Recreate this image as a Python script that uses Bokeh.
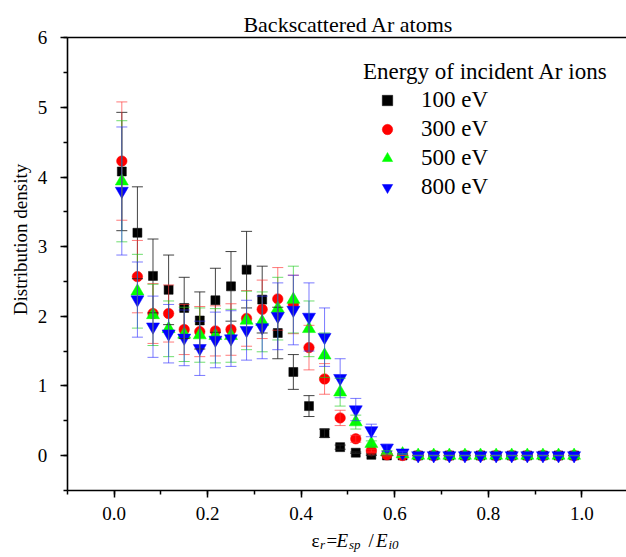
from math import pi
from bokeh.plotting import figure
from bokeh.models import (ColumnDataSource, Whisker, TeeHead, Legend, LegendItem, Label,
                          SingleIntervalTicker, NumeralTickFormatter, Range1d, LinearAxis)
from bokeh.embed import file_html
from bokeh.resources import INLINE

# ---------------- data ----------------
eps_r = [0.0167, 0.05, 0.0833, 0.1167, 0.15, 0.1833, 0.2167, 0.25, 0.2833, 0.3167,
         0.35, 0.3833, 0.4167, 0.45, 0.4833, 0.5167, 0.55, 0.5833, 0.6167, 0.65,
         0.6833, 0.7167, 0.75, 0.7833, 0.8167, 0.85, 0.8833, 0.9167, 0.95, 0.9833]

d100 = [4.08, 3.20, 2.58, 2.38, 2.12, 1.94, 2.23, 2.43, 2.67, 2.24,
        1.76, 1.20, 0.71, 0.32, 0.12, 0.04, 0.01, 0.0, 0.0, 0.0,
        0.0, 0.0, 0.0, 0.0, 0.0, 0.0, 0.0, 0.0, 0.0, 0.0]
e100 = [0.85, 0.66, 0.53, 0.50, 0.44, 0.41, 0.46, 0.50, 0.55, 0.48,
        0.37, 0.25, 0.15, 0.06, 0.03, 0.01, 0.01, 0.0, 0.0, 0.0,
        0.0, 0.0, 0.0, 0.0, 0.0, 0.0, 0.0, 0.0, 0.0, 0.0]

d300 = [4.23, 2.57, 2.04, 2.04, 1.81, 1.78, 1.79, 1.81, 1.97, 2.10,
        2.25, 2.17, 1.55, 1.10, 0.54, 0.24, 0.07, 0.01, 0.0, 0.0,
        0.0, 0.0, 0.0, 0.0, 0.0, 0.0, 0.0, 0.0, 0.0, 0.0]
e300 = [0.85, 0.52, 0.43, 0.41, 0.36, 0.36, 0.36, 0.37, 0.40, 0.42,
        0.45, 0.42, 0.32, 0.22, 0.11, 0.05, 0.02, 0.01, 0.0, 0.0,
        0.0, 0.0, 0.0, 0.0, 0.0, 0.0, 0.0, 0.0, 0.0, 0.0]

d500 = [3.94, 2.36, 2.02, 1.82, 1.74, 1.73, 1.72, 1.72, 1.94, 1.92,
        2.11, 2.24, 1.82, 1.44, 0.91, 0.48, 0.17, 0.05, 0.02, 0.0,
        0.0, 0.0, 0.0, 0.0, 0.0, 0.0, 0.0, 0.0, 0.0, 0.0]
e500 = [0.87, 0.53, 0.44, 0.40, 0.39, 0.39, 0.39, 0.38, 0.42, 0.43,
        0.45, 0.48, 0.40, 0.32, 0.20, 0.10, 0.04, 0.02, 0.01, 0.0,
        0.0, 0.0, 0.0, 0.0, 0.0, 0.0, 0.0, 0.0, 0.0, 0.0]

d800 = [3.80, 2.24, 1.85, 1.75, 1.69, 1.54, 1.66, 1.68, 1.80, 1.84,
        2.00, 2.09, 1.99, 1.70, 1.11, 0.66, 0.36, 0.11, 0.04, 0.0,
        0.0, 0.0, 0.0, 0.0, 0.0, 0.0, 0.0, 0.0, 0.0, 0.0]
e800 = [0.92, 0.54, 0.44, 0.42, 0.40, 0.39, 0.40, 0.40, 0.43, 0.45,
        0.48, 0.50, 0.49, 0.42, 0.28, 0.16, 0.09, 0.05, 0.02, 0.01,
        0.01, 0.01, 0.01, 0.01, 0.01, 0.01, 0.01, 0.01, 0.01, 0.01]

series_labels = ["100 eV", "300 eV", "500 eV", "800 eV"]
title_text = "Backscattered Ar atoms"
legend_title = "Energy of incident Ar ions"
y_label = "Distribution density"

X_AXIS = (-0.1, 1.095)   # visible extent of the x axis
Y_AXIS = (-0.5, 6.0)     # visible extent of the y axis

FONT = "Liberation Serif"
W, H = 626, 557

# The frame covers the whole canvas; axes are pinned at fixed data locations
p = figure(width=W, height=H, x_range=Range1d(-0.2426, 1.0953), y_range=Range1d(-1.4655, 6.537),
           output_backend="svg", toolbar_location=None, title=None, min_border=0,
           background_fill_color="white", border_fill_color="white")
p.outline_line_color = None
p.xgrid.visible = False
p.ygrid.visible = False

xa = p.xaxis[0]
ya = p.yaxis[0]
xa.fixed_location = Y_AXIS[0]
xa.bounds = X_AXIS
ya.fixed_location = X_AXIS[0]
ya.bounds = Y_AXIS

for ax in (xa, ya):
    ax.axis_line_width = 1.6
    ax.axis_line_color = "black"
    ax.major_tick_in = 0
    ax.major_tick_out = 7
    ax.minor_tick_in = 0
    ax.minor_tick_out = 4
    ax.major_tick_line_width = 1.5
    ax.minor_tick_line_width = 1.5
    ax.major_tick_line_color = "black"
    ax.minor_tick_line_color = "black"
    ax.major_label_text_font = FONT
    ax.major_label_text_font_size = "19px"
    ax.major_label_text_color = "black"

xa.ticker = SingleIntervalTicker(interval=0.2, num_minor_ticks=2)
xa.formatter = NumeralTickFormatter(format="0.0")
xa.major_label_standoff = 10
ya.ticker = SingleIntervalTicker(interval=1, num_minor_ticks=2)
ya.major_label_standoff = 13

# top frame line
top = LinearAxis(fixed_location=Y_AXIS[1], bounds=X_AXIS, axis_line_width=1.6,
                 axis_line_color="black", major_tick_line_color=None,
                 minor_tick_line_color=None, major_label_text_color=None)
p.add_layout(top, "above")

specs = [
    (d100, e100, "square", 9, "#000000", "#222222", 0.85),
    (d300, e300, "circle", 10.5, "#ff0000", "#ff3333", 0.65),
    (d500, e500, "triangle", 13, "#00ff00", "#22cc22", 0.65),
    (d800, e800, "inverted_triangle", 13, "#0000ff", "#3333ff", 0.65),
]

renderers = []
for vals, errs, marker, size, color, ecolor, ealpha in specs:
    src = ColumnDataSource(dict(
        x=eps_r, y=vals,
        lo=[v - e for v, e in zip(vals, errs)],
        up=[v + e for v, e in zip(vals, errs)],
    ))
    w = Whisker(source=src, base="x", upper="up", lower="lo",
                line_color=ecolor, line_alpha=ealpha, line_width=1, level="glyph",
                upper_head=TeeHead(size=11, line_color=ecolor, line_alpha=ealpha, line_width=1),
                lower_head=TeeHead(size=11, line_color=ecolor, line_alpha=ealpha, line_width=1))
    p.add_layout(w)
    r = p.scatter("x", "y", source=src, marker=marker, size=size,
                  fill_color=color, line_color=color, line_width=0.5)
    renderers.append(r)

legend = Legend(
    items=[LegendItem(label=lab, renderers=[r]) for lab, r in zip(series_labels, renderers)],
    location=(363, 357),
    title=legend_title,
    title_text_font=FONT, title_text_font_size="23px", title_text_font_style="normal",
    title_text_color="black", title_standoff=2,
    label_text_font=FONT, label_text_font_size="23px", label_text_color="black",
    glyph_width=48, glyph_height=26, label_height=26, label_standoff=10, spacing=3,
    padding=0, margin=0, border_line_color=None, background_fill_alpha=0,
)
p.add_layout(legend)


def lab(txt, x, y, size, style="normal", angle=0.0, align="left", baseline="alphabetic"):
    # x, y: pixels from the canvas' top-left corner
    p.add_layout(Label(x=x, y=H - y, x_units="screen", y_units="screen", text=txt,
                       text_font=FONT, text_font_size=f"{size}px", text_font_style=style,
                       text_color="black", angle=angle, text_align=align,
                       text_baseline=baseline))


# title
lab(title_text, 348, 24, 22, align="center")
# y axis label
lab(y_label, 20, 239, 19, angle=pi / 2, align="center", baseline="middle")
# x axis label: εr = Esp / Ei0
MAIN_Y, SUB_Y = 540, 544
lab("ε", 311, MAIN_Y, 19)
lab("r", 319.5, SUB_Y, 13, style="italic")
lab("=", 326, MAIN_Y, 19)
lab("E", 336, MAIN_Y, 19, style="italic")
lab("sp", 348.5, SUB_Y, 13, style="italic")
lab("/", 368, MAIN_Y, 19)
lab("E", 375.5, MAIN_Y, 19, style="italic")
lab("i0", 388, SUB_Y, 13, style="italic")

open("out.html", "w").write(file_html(p, INLINE))
